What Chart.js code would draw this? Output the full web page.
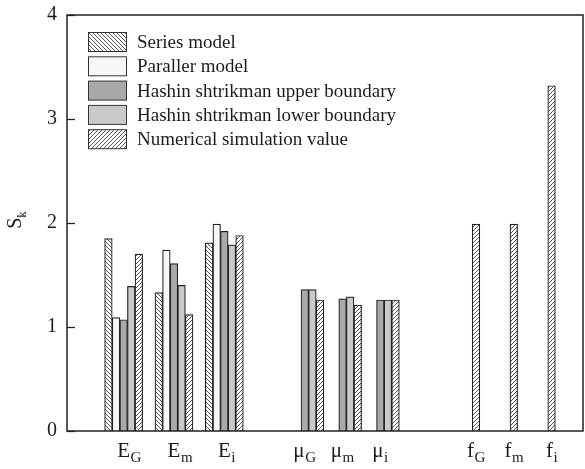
<!DOCTYPE html>
<html>
<head>
<meta charset="utf-8">
<script src="https://cdn.jsdelivr.net/npm/chart.js@4.4.1/dist/chart.umd.min.js"></script>
<style>
  html, body { margin: 0; padding: 0; background: #fff; }
  #wrap { width: 585px; height: 469px; }
</style>
</head>
<body>
<div id="wrap"><canvas id="chart" width="585" height="469"></canvas></div>
<script>
// Category axis: named groups with blank spacer slots between them
// (label text is "main_sub" -> drawn with a subscript)
const categories = [
    '', '', '', '', 'E_G', '', '', '', 'E_m', '', '', '', 'E_i',
    '', '', '', '', '', '', 'μ_G', '', '', 'μ_m', '', '', 'μ_i',
    '', '', '', '', '', '', 'f_G', '', '', 'f_m', '', '', 'f_i', '', ''
];

// Values for the 9 named groups, in order E_G..f_i (null = no bar)
const seriesModel   = [1.85, 1.33, 1.81, null, null, null, null, null, null];
const parallelModel = [1.09, 1.74, 1.99, null, null, null, null, null, null];
const hsUpper       = [1.07, 1.61, 1.92, 1.36, 1.27, 1.26, null, null, null];
const hsLower       = [1.39, 1.40, 1.79, 1.36, 1.29, 1.26, null, null, null];
const numerical     = [1.70, 1.12, 1.88, 1.26, 1.21, 1.26, 1.99, 1.99, 3.32];

const legendLabels = [
    'Series model',
    'Paraller model',
    'Hashin shtrikman upper boundary',
    'Hashin shtrikman lower boundary',
    'Numerical simulation value'
];
const yTicks = [0, 1, 2, 3, 4];

const SERIF = '"Liberation Serif", "DejaVu Serif", serif';
const INK = '#1c1c1c';

// spread the 9 group values over the slots of the category axis
function toSlots(values) {
    let k = 0;
    return categories.map(c => (c ? values[k++] : null));
}

// diagonal hatch tile; 'back' = "\\\\", 'fwd' = "////"
function hatch(dir) {
    const s = 4;
    const c = document.createElement('canvas');
    c.width = s; c.height = s;
    const g = c.getContext('2d');
    g.fillStyle = '#ffffff';
    g.fillRect(0, 0, s, s);
    g.strokeStyle = '#444';
    g.lineWidth = 0.9;
    g.beginPath();
    for (let k = -1; k <= 2; k++) {
        if (dir === 'back') {
            g.moveTo(0, k * s); g.lineTo(s, k * s + s);
        } else {
            g.moveTo(0, k * s); g.lineTo(s, k * s - s);
        }
    }
    g.stroke();
    return g.createPattern(c, 'repeat');
}

const fills = [hatch('back'), '#f7f7f7', '#a9a9a9', '#c9c9c9', hatch('fwd')];
const seriesData = [seriesModel, parallelModel, hsUpper, hsLower, numerical];

// frame, inside ticks, subscripted category labels, y title and legend
const decorations = {
    id: 'decorations',
    afterDraw(chart) {
        const ctx = chart.ctx;
        const area = chart.chartArea;
        const x = chart.scales.x;
        const y = chart.scales.y;

        ctx.save();
        // plot frame
        ctx.strokeStyle = '#222';
        ctx.lineWidth = 1.5;
        ctx.strokeRect(area.left, area.top, area.right - area.left, area.bottom - area.top);

        // inward y ticks
        ctx.lineWidth = 1.3;
        yTicks.forEach(v => {
            const py = Math.round(y.getPixelForValue(v)) + 0.5;
            ctx.beginPath();
            ctx.moveTo(area.left, py);
            ctx.lineTo(area.left + 8, py);
            ctx.stroke();
        });

        // category labels with subscripts
        ctx.fillStyle = INK;
        ctx.textBaseline = 'alphabetic';
        ctx.textAlign = 'left';
        categories.forEach((c, i) => {
            if (!c) return;
            const [main, sub] = c.split('_');
            const px = x.getPixelForValue(i);
            ctx.font = '21px ' + SERIF;
            const wm = ctx.measureText(main).width;
            ctx.font = '15px ' + SERIF;
            const ws = ctx.measureText(sub).width;
            let left;
            if (main === 'E') left = px - wm / 2;          // main glyph under the group
            else if (main === 'μ') left = px - 8 - (wm + ws) / 2;
            else left = px - (wm + ws) / 2;
            ctx.font = '21px ' + SERIF;
            ctx.fillText(main, left, 457);
            ctx.font = '15px ' + SERIF;
            ctx.fillText(sub, left + wm + 0.5, 462);
        });

        // y axis title S_k
        ctx.translate(21, 220);
        ctx.rotate(-Math.PI / 2);
        ctx.font = '20px ' + SERIF;
        const ws = ctx.measureText('S').width;
        ctx.font = '13px ' + SERIF;
        const wk = ctx.measureText('k').width;
        ctx.font = '20px ' + SERIF;
        ctx.fillText('S', -(ws + wk) / 2, 0);
        ctx.font = '13px ' + SERIF;
        ctx.fillText('k', -(ws + wk) / 2 + ws, 5);
        ctx.restore();

        // legend inside the plot
        ctx.save();
        ctx.font = '19px ' + SERIF;
        ctx.textBaseline = 'middle';
        ctx.fillStyle = INK;
        legendLabels.forEach((label, i) => {
            const cy = 42 + i * 24.3;
            ctx.fillStyle = fills[i];
            ctx.fillRect(88, cy - 9.5, 38, 19);
            ctx.strokeStyle = '#333';
            ctx.lineWidth = 1;
            ctx.strokeRect(88.5, cy - 9.5, 38, 19);
            ctx.fillStyle = INK;
            ctx.fillText(label, 137, cy + 1);
        });
        ctx.restore();
    }
};

new Chart(document.getElementById('chart'), {
    type: 'bar',
    data: {
        labels: categories,
        datasets: legendLabels.map((label, i) => ({
            label,
            data: toSlots(seriesData[i]),
            backgroundColor: fills[i],
            borderColor: '#222',
            borderWidth: 1.2,
            barThickness: 7.6,
            skipNull: true
        }))
    },
    options: {
        responsive: false,
        animation: false,
        devicePixelRatio: 1,
        layout: { padding: { top: 15, right: 2, bottom: 38, left: 0 } },
        plugins: {
            legend: { display: false },
            tooltip: { enabled: false }
        },
        scales: {
            x: {
                display: false
            },
            y: {
                min: 0,
                max: 4,
                afterFit(scale) {
                    scale.width = 67;
                    // keep the end labels from pushing the plot area in
                    scale.paddingTop = 0;
                    scale.paddingBottom = 0;
                },
                afterBuildTicks(scale) { scale.ticks = yTicks.map(v => ({ value: v })); },
                grid: { display: false, drawTicks: false },
                border: { display: false },
                ticks: {
                    padding: 10,
                    color: INK,
                    font: { family: SERIF, size: 20 }
                }
            }
        }
    },
    plugins: [decorations]
});
</script>
</body>
</html>
